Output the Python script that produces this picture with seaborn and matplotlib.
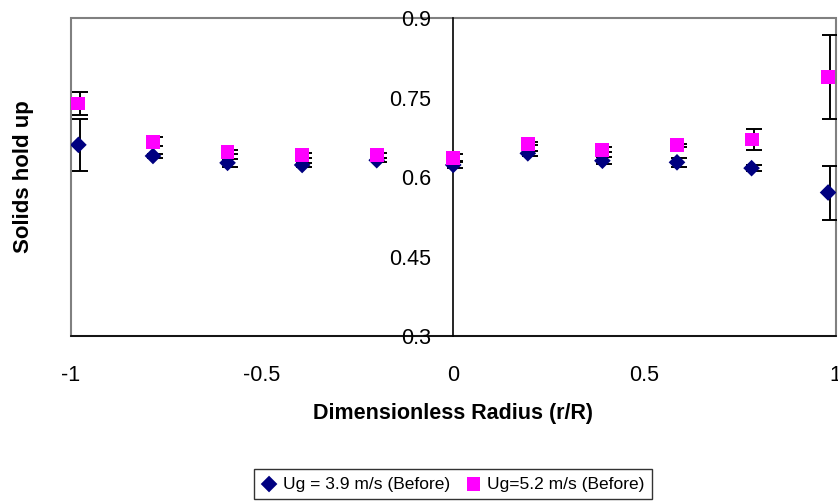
import matplotlib
matplotlib.use("Agg")
import matplotlib.pyplot as plt
from matplotlib.transforms import ScaledTranslation
import seaborn as sns
import pandas as pd

# ---- data ----
r = [-0.98, -0.785, -0.59, -0.395, -0.2, 0.0, 0.195, 0.39, 0.585, 0.78, 0.98]
ug39 = [0.661, 0.640, 0.627, 0.623, 0.632, 0.623, 0.645, 0.631, 0.628, 0.617, 0.571]
err39 = [0.049, 0.004, 0.007, 0.004, 0.004, 0.005, 0.005, 0.007, 0.009, 0.006, 0.051]
ug52 = [0.739, 0.667, 0.648, 0.641, 0.641, 0.637, 0.663, 0.652, 0.660, 0.671, 0.789]
err52 = [0.021, 0.008, 0.004, 0.005, 0.005, 0.007, 0.003, 0.005, 0.003, 0.019, 0.080]
label39 = "Ug = 3.9 m/s (Before)"
label52 = "Ug=5.2 m/s (Before)"
xticks = [-1, -0.5, 0, 0.5, 1]
xticklabels = ["-1", "-0.5", "0", "0.5", "1"]
yticks = [0.3, 0.45, 0.6, 0.75, 0.9]
yticklabels = ["0.3", "0.45", "0.6", "0.75", "0.9"]

df39 = pd.DataFrame({"r": r, "holdup": ug39, "err": err39})
df52 = pd.DataFrame({"r": r, "holdup": ug52, "err": err52})

sns.set_style("white")
plt.rcParams["font.family"] = ["Liberation Sans", "DejaVu Sans"]
plt.rcParams["text.color"] = "black"

fig = plt.figure(figsize=(8.38, 5.01), dpi=100)
ax = fig.add_axes([0.0844, 0.3293, 0.9129, 0.6342])

navy = "#000080"
magenta = "#FF00FF"

# error bars (behind markers), nudged slightly right as in the Excel original
shift = ax.transData + ScaledTranslation(2 / 100, 0, fig.dpi_scale_trans)
for d in (df39, df52):
    ax.errorbar(d["r"], d["holdup"], yerr=d["err"], fmt="none",
                ecolor="black", elinewidth=1.4, capsize=6, capthick=1.4,
                zorder=2, transform=shift)

sns.scatterplot(data=df39, x="r", y="holdup", marker="D", color=navy, s=72,
                edgecolor="none", label=label39, ax=ax, zorder=3)
sns.scatterplot(data=df52, x="r", y="holdup", marker="s", color=magenta, s=100,
                edgecolor="none", label=label52, ax=ax, zorder=3)

ax.set_xlim(-1, 1)
ax.set_ylim(0.3, 0.9)

# plot-area border (gray) + axes through origin (black)
ax.patch.set_edgecolor("#808080")
ax.patch.set_linewidth(1.5)
for s in ["top", "right"]:
    ax.spines[s].set_visible(False)
ax.spines["left"].set_position(("data", 0))
ax.spines["left"].set_color("black")
ax.spines["left"].set_linewidth(1.2)
ax.spines["bottom"].set_color("black")
ax.spines["bottom"].set_linewidth(1.2)

ax.set_xticks(xticks)
ax.set_xticklabels(xticklabels)
ax.set_yticks(yticks)
ax.set_yticklabels(yticklabels)
ax.tick_params(axis="both", direction="out", length=6, width=1, color="black",
               labelsize=15.5, labelcolor="black")
ax.tick_params(axis="x", pad=15)
ax.tick_params(axis="y", pad=10)
ax.set_xlabel("")
ax.set_ylabel("")

fig.text(453 / 838, 1 - 414 / 501, "Dimensionless Radius (r/R)", ha="center",
         va="center", fontsize=15.5, fontweight="bold", color="black")
fig.text(23 / 838, 1 - 177 / 501, "Solids hold up", ha="center", va="center",
         rotation=90, fontsize=16, fontweight="bold", color="black")

handles, labels = ax.get_legend_handles_labels()
ax.get_legend().remove()
leg = fig.legend(handles, labels, loc="center", bbox_to_anchor=(453 / 838, 1 - 484 / 501),
                 ncol=2, frameon=True, fancybox=False, edgecolor="black",
                 fontsize=12.5, handlelength=0.9, handletextpad=0.35,
                 columnspacing=0.9, borderpad=0.4, borderaxespad=0)
leg.get_frame().set_linewidth(1.0)
for t in leg.get_texts():
    t.set_color("black")

fig.savefig("out.png", dpi=100)
